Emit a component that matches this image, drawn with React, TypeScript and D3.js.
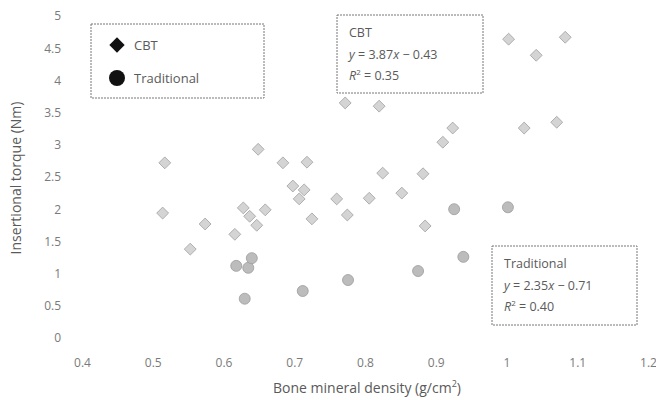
import React, { useEffect, useRef } from "react";
import * as d3 from "d3";

// CBT (diamonds)
const cbtX = [
  0.517, 0.514, 0.553, 0.574, 0.616, 0.628, 0.637, 0.647, 0.659, 0.649, 0.684,
  0.718, 0.698, 0.714, 0.707, 0.725, 0.76, 0.775, 0.806, 0.825, 0.852, 0.882,
  0.885, 0.772, 0.82, 0.91, 0.924, 1.003, 1.083, 1.042, 1.025, 1.071,
];
const cbtY = [
  2.72, 1.94, 1.38, 1.77, 1.61, 2.02, 1.89, 1.75, 1.99, 2.93, 2.72, 2.73, 2.36,
  2.3, 2.16, 1.85, 2.16, 1.91, 2.17, 2.56, 2.25, 2.55, 1.74, 3.65, 3.6, 3.04,
  3.26, 4.64, 4.67, 4.39, 3.26, 3.35,
];

// Traditional (circles)
const tradX = [0.618, 0.635, 0.64, 0.63, 0.712, 0.776, 0.875, 0.939, 0.926, 1.002];
const tradY = [1.12, 1.09, 1.24, 0.61, 0.73, 0.9, 1.04, 1.26, 2.0, 2.03];

const xTicks = [0.4, 0.5, 0.6, 0.7, 0.8, 0.9, 1, 1.1, 1.2];
const yTicks = [0, 0.5, 1, 1.5, 2, 2.5, 3, 3.5, 4, 4.5, 5];

const cbtLines = ["CBT", "y = 3.87x − 0.43", "R² = 0.35"];
const tradLines = ["Traditional", "y = 2.35x − 0.71", "R² = 0.40"];

const W = 656;
const H = 400;
const FONT = "'Open Sans', sans-serif";

const App = () => {
  const ref = useRef<SVGSVGElement>(null);

  useEffect(() => {
    const svg = d3.select(ref.current);
    svg.selectAll("*").remove();

    const x = d3.scaleLinear().domain([0.4, 1.2]).range([82, 648]);
    const y = d3.scaleLinear().domain([0, 5]).range([338, 16]);

    // axes (no lines, only labels)
    const gx = svg
      .append("g")
      .attr("transform", "translate(0,355)")
      .call(
        d3
          .axisBottom(x)
          .tickValues(xTicks)
          .tickSize(0)
          .tickFormat((d) => String(d))
      );
    const gy = svg
      .append("g")
      .attr("transform", "translate(64,0)")
      .call(
        d3
          .axisLeft(y)
          .tickValues(yTicks)
          .tickSize(0)
          .tickFormat((d) => String(d))
      );
    [gx, gy].forEach((g) => {
      g.select(".domain").remove();
      g.selectAll("text")
        .attr("fill", "#7a7a7a")
        .style("font-family", FONT)
        .style("font-size", "12px");
    });

    const xt = svg
      .append("text")
      .attr("x", 367)
      .attr("y", 393)
      .attr("text-anchor", "middle")
      .attr("fill", "#5a5a5a")
      .style("font-family", FONT)
      .style("font-size", "14px");
    xt.append("tspan").text("Bone mineral density (g/cm");
    xt.append("tspan")
      .attr("baseline-shift", "super")
      .style("font-size", "9px")
      .text("2");
    xt.append("tspan").attr("baseline-shift", "0").text(")");

    svg
      .append("text")
      .attr("transform", "translate(21,178) rotate(-90)")
      .attr("text-anchor", "middle")
      .attr("fill", "#5a5a5a")
      .style("font-family", FONT)
      .style("font-size", "14px")
      .text("Insertional torque (Nm)");

    const diamond = d3.symbol().type(d3.symbolDiamond2).size(90);

    // CBT points
    svg
      .append("g")
      .selectAll("path")
      .data(cbtX.map((v, i) => [v, cbtY[i]]))
      .join("path")
      .attr("d", diamond)
      .attr("transform", (d) => `translate(${x(d[0])},${y(d[1])})`)
      .attr("fill", "#d4d4d4")
      .attr("stroke", "#a0a0a0")
      .attr("stroke-width", 0.8);

    // Traditional points
    svg
      .append("g")
      .selectAll("circle")
      .data(tradX.map((v, i) => [v, tradY[i]]))
      .join("circle")
      .attr("cx", (d) => x(d[0]))
      .attr("cy", (d) => y(d[1]))
      .attr("r", 5.5)
      .attr("fill", "#bcbcbc")
      .attr("stroke", "#9c9c9c")
      .attr("stroke-width", 0.8);

    // legend
    const leg = svg.append("g");
    leg
      .append("rect")
      .attr("x", 91)
      .attr("y", 24)
      .attr("width", 173)
      .attr("height", 74)
      .attr("fill", "white")
      .attr("stroke", "#777")
      .attr("stroke-dasharray", "2,1");
    leg
      .append("path")
      .attr("d", d3.symbol().type(d3.symbolDiamond2).size(150)())
      .attr("transform", "translate(117,45)")
      .attr("fill", "#111");
    leg
      .append("circle")
      .attr("cx", 117)
      .attr("cy", 78)
      .attr("r", 8)
      .attr("fill", "#111");
    leg
      .selectAll("text")
      .data(["CBT", "Traditional"])
      .join("text")
      .attr("x", 134)
      .attr("y", (d, i) => 50 + i * 33)
      .attr("fill", "#5a5a5a")
      .style("font-family", FONT)
      .style("font-size", "13px")
      .text((d) => d);

    // equation boxes
    const eqBox = (bx, by, bw, bh, lines) => {
      const g = svg.append("g");
      g.append("rect")
        .attr("x", bx)
        .attr("y", by)
        .attr("width", bw)
        .attr("height", bh)
        .attr("fill", "white")
        .attr("stroke", "#777")
        .attr("stroke-dasharray", "2,1");
      lines.forEach((ln, i) => {
        const t = g
          .append("text")
          .attr("x", bx + 12)
          .attr("y", by + 22 + i * 21.5)
          .attr("fill", "#5a5a5a")
          .style("font-family", FONT)
          .style("font-size", "12.5px");
        if (i === 0) {
          t.text(ln);
        } else if (i === 1) {
          t.append("tspan").style("font-style", "italic").text("y");
          const m = ln.slice(1).split("x");
          t.append("tspan").text(m[0]);
          t.append("tspan").style("font-style", "italic").text("x");
          t.append("tspan").text(m[1]);
        } else {
          t.append("tspan").style("font-style", "italic").text("R");
          t.append("tspan")
            .attr("baseline-shift", "super")
            .style("font-size", "8px")
            .text("2");
          t.append("tspan").attr("baseline-shift", "0").text(ln.slice(2));
        }
      });
    };
    eqBox(337, 15, 146, 78, cbtLines);
    eqBox(492, 246, 145, 79, tradLines);
  }, []);

  return (
    <svg
      ref={ref}
      width={W}
      height={H}
      style={{ position: "absolute", left: 0, top: 0, background: "white" }}
    />
  );
};

export default App;
